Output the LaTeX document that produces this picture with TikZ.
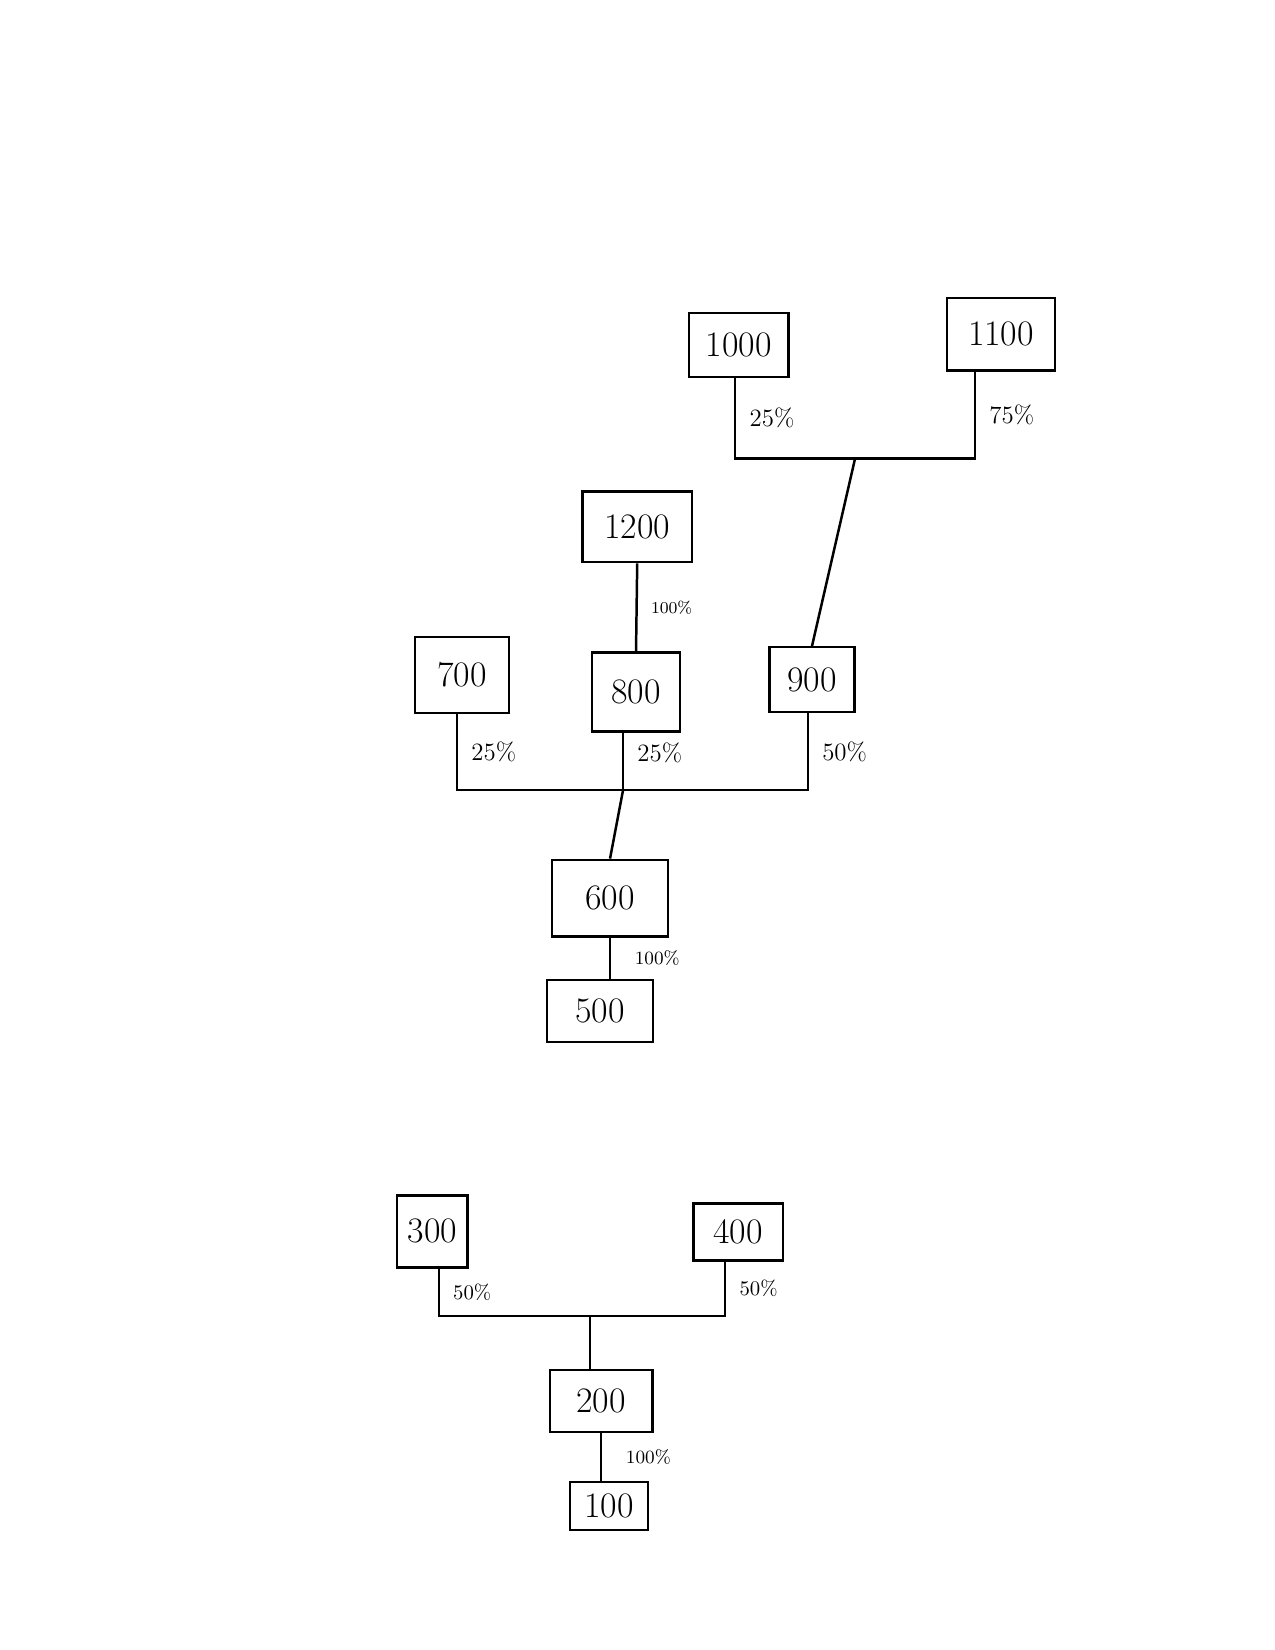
\documentclass[tikz,border=0pt]{standalone}
\usetikzlibrary{positioning}
\begin{document}
\begin{tikzpicture}[
  line width=1.2pt,
  box/.style 2 args={draw, minimum width=#1cm, minimum height=#2cm, inner sep=2pt, font=\LARGE},
  pct/.style={font=\large, right=3pt},
  smallpct/.style={font=\small, right=8pt}
]
\useasboundingbox (0,0) rectangle (21.59,-27.94);
% upper tree: 1000/1100 feed 900, then 700/800/900 feed 600
\node[box={1.69}{1.08}] (n1000) at (12.51,-5.84) {1000};
\node[box={1.83}{1.22}] (n1100) at (16.95,-5.66) {1100};
\node[box={1.86}{1.20}] (n1200) at (10.79,-8.92) {1200};
\node[box={1.59}{1.29}] (n700) at (7.82,-11.43) {700};
\node[box={1.49}{1.34}] (n800) at (10.77,-11.72) {800};
\node[box={1.44}{1.10}] (n900) at (13.75,-11.51) {900};
\node[box={1.96}{1.30}] (n600) at (10.33,-15.21) {600};
\node[box={1.79}{1.05}] (n500) at (10.16,-17.12) {500};
\coordinate (barAl) at (12.45,-7.76);
\coordinate (barAm) at (14.48,-7.76);
\coordinate (barAr) at (16.51,-7.76);
\coordinate (barBl) at (7.74,-13.38);
\coordinate (barBm) at (10.55,-13.38);
\coordinate (barBr) at (13.68,-13.38);
\draw (barAl |- n1000.south) -- node[pct] (p1000) {25\%} (barAl) -- (barAr)
  -- node[pct] (p1100) {75\%} (barAr |- n1100.south);
\draw (barAm) -- (n900.north);
\draw (n1200.south) -- node[font=\footnotesize, right=3pt] (p1200) {100\%} (n800.north);
\draw (barBl |- n700.south) -- node[pct] (p700) {25\%} (barBl) -- (barBr)
  -- node[pct] (p900) {50\%} (barBr |- n900.south);
\draw (barBm |- n800.south) -- node[pct, pos=0.35] (p800) {25\%} (barBm);
\draw (barBm) -- (n600.north);
\draw (n600.south) -- node[smallpct] (p600) {100\%} (n600.south |- n500.north);
% lower tree: 300/400 feed 200, 200 feeds 100
\node[box={1.19}{1.22}] (n300) at (7.32,-20.85) {300};
\node[box={1.51}{0.97}] (n400) at (12.50,-20.86) {400};
\node[box={1.74}{1.05}] (n200) at (10.18,-23.72) {200};
\node[box={1.32}{0.81}] (n100) at (10.31,-25.50) {100};
\coordinate (barCl) at (7.43,-22.28);
\coordinate (barCm) at (9.99,-22.28);
\coordinate (barCr) at (12.28,-22.28);
\draw (barCl |- n300.south) -- node[pct, font=\normalsize] (p300) {50\%} (barCl) -- (barCr)
  -- node[pct, font=\normalsize] (p400) {50\%} (barCr |- n400.south);
\draw (barCm) -- (barCm |- n200.north);
\draw (n200.south) -- node[smallpct] (p200) {100\%} (n200.south |- n100.north);
\end{tikzpicture}
\end{document}
